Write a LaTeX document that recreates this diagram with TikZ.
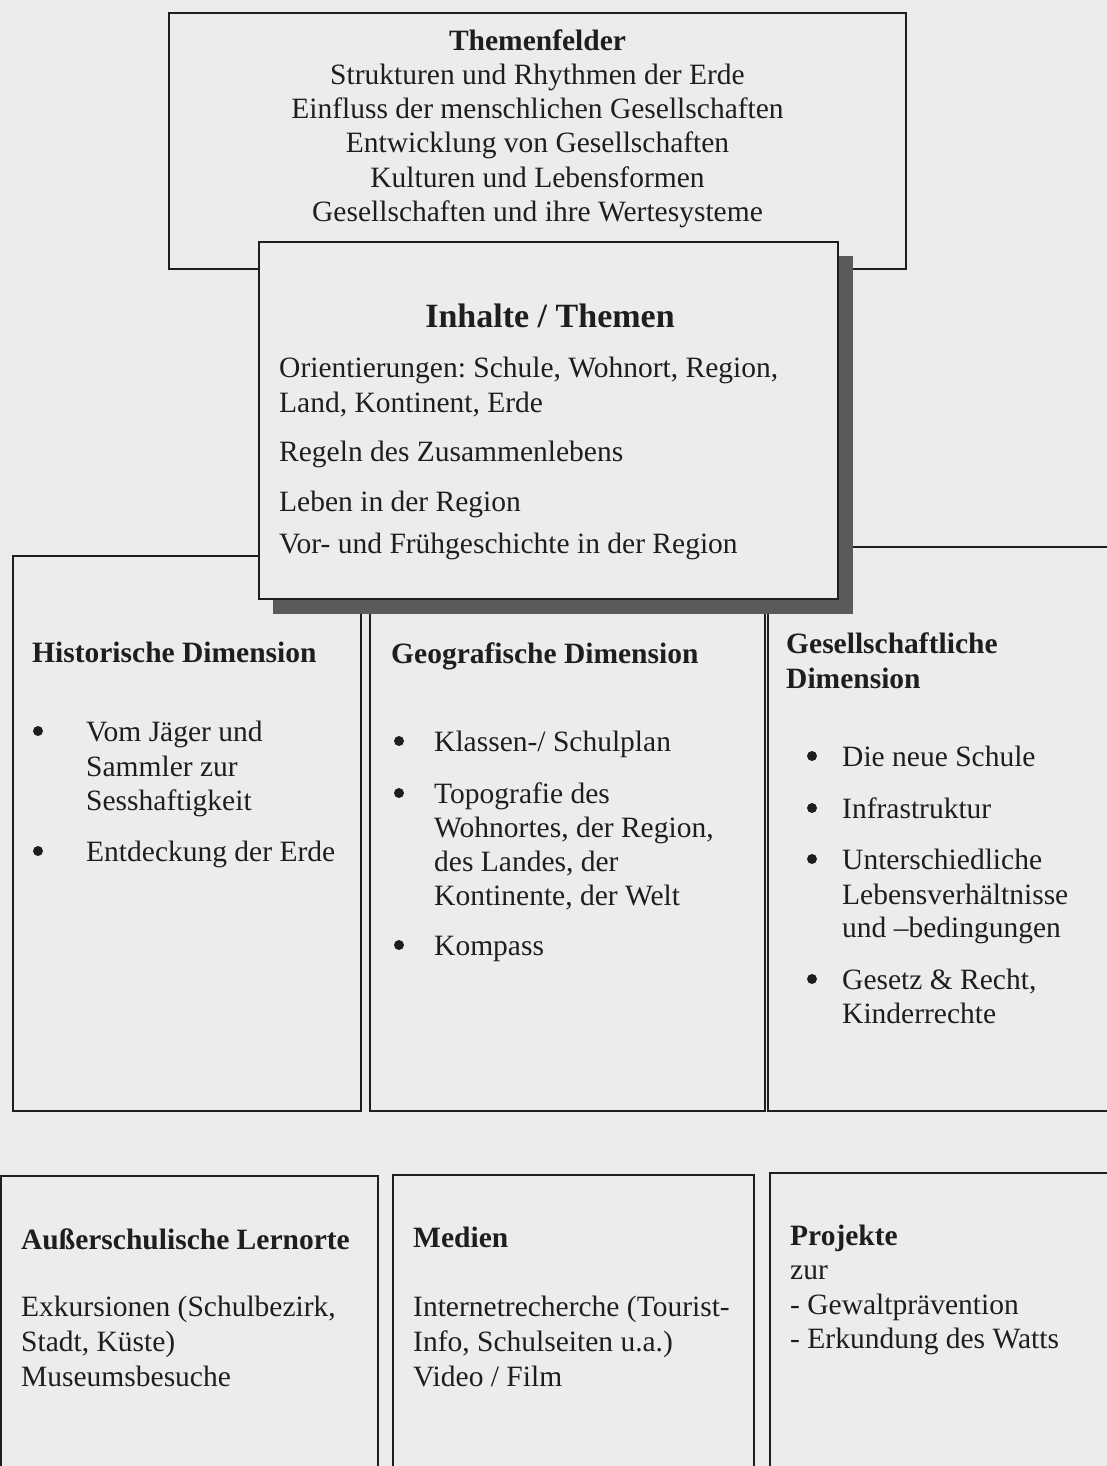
\documentclass[tikz,border=0pt]{standalone}
\usepackage{fontspec}
\setmainfont{Liberation Serif}
\frenchspacing
\definecolor{paper}{HTML}{ECEDEB}
\definecolor{ink}{HTML}{1E1E1E}
\definecolor{shadowgray}{HTML}{5A5A5A}
\tikzset{
  frame/.style={draw=ink, line width=2.2pt},
  txt/.style={font=\fontsize{29.5}{35}\selectfont, inner sep=0pt, anchor=base west, text=ink},
  hd/.style={txt, font=\fontsize{29.5}{35}\selectfont\bfseries},
  ctr/.style={txt, anchor=base},
  dot/.style={circle, fill=ink, draw=none, inner sep=0pt, minimum size=10pt}
}
\begin{document}
\begin{tikzpicture}[x=1pt,y=-1pt]
\useasboundingbox (0,0) rectangle (1107,1466);
\fill[paper] (0,0) rectangle (1107,1466);

% Themenfelder box
\draw[frame] (169,13) rectangle (906,269);
\node[hd, anchor=base] (tf0) at (537.5,51) {Themenfelder};
\node[ctr] (tf1) at (537.5,85) {Strukturen und Rhythmen der Erde};
\node[ctr] (tf2) at (537.5,119) {Einfluss der menschlichen Gesellschaften};
\node[ctr] (tf3) at (537.5,153) {Entwicklung von Gesellschaften};
\node[ctr] (tf4) at (537.5,188) {Kulturen und Lebensformen};
\node[ctr] (tf5) at (537.5,222) {Gesellschaften und ihre Wertesysteme};

% middle row boxes
\draw[frame] (13,556) rectangle (361,1111);
\draw[frame] (370,600) rectangle (765,1111);
\draw[frame] (1125,547) -- (768,547) -- (768,1111) -- (1125,1111);

% Inhalte box with shadow
\fill[shadowgray] (273,256) rectangle (853,614);
\fill[paper] (259,242) rectangle (838,599);
\draw[frame] (259,242) rectangle (838,599);
\node[ctr, font=\fontsize{34}{40}\selectfont\bfseries] (ih0) at (550,327) {Inhalte / Themen};
\node[txt] (ih1) at (279,377) {Orientierungen: Schule, Wohnort, Region,};
\node[txt] (ih2) at (279,412) {Land, Kontinent, Erde};
\node[txt] (ih3) at (279,461) {Regeln des Zusammenlebens};
\node[txt] (ih4) at (279,511) {Leben in der Region};
\node[txt] (ih5) at (279,553) {Vor- und Frühgeschichte in der Region};

% Historische Dimension
\node[hd] (hi0) at (32,662) {Historische Dimension};
\node[dot] (hib1) at (38,731) {};
\node[txt] (hi1) at (86,741) {Vom Jäger und};
\node[txt] (hi2) at (86,776) {Sammler zur};
\node[txt] (hi3) at (86,810) {Sesshaftigkeit};
\node[dot] (hib2) at (38,851) {};
\node[txt] (hi4) at (86,861) {Entdeckung der Erde};

% Geografische Dimension
\node[hd] (ge0) at (391,663) {Geografische Dimension};
\node[dot] (geb1) at (399,741) {};
\node[txt] (ge1) at (434,751) {Klassen-/ Schulplan};
\node[dot] (geb2) at (399,793) {};
\node[txt] (ge2) at (434,803) {Topografie des};
\node[txt] (ge3) at (434,837) {Wohnortes, der Region,};
\node[txt] (ge4) at (434,871) {des Landes, der};
\node[txt] (ge5) at (434,905) {Kontinente, der Welt};
\node[dot] (geb3) at (399,945) {};
\node[txt] (ge6) at (434,955) {Kompass};

% Gesellschaftliche Dimension
\node[hd] (gs0) at (786,653) {Gesellschaftliche};
\node[hd] (gs0b) at (786,688) {Dimension};
\node[dot] (gsb1) at (812,756) {};
\node[txt] (gs1) at (842,766) {Die neue Schule};
\node[dot] (gsb2) at (812,808) {};
\node[txt] (gs2) at (842,818) {Infrastruktur};
\node[dot] (gsb3) at (812,859) {};
\node[txt] (gs3) at (842,869) {Unterschiedliche};
\node[txt] (gs4) at (842,904) {Lebensverhältnisse};
\node[txt] (gs5) at (842,937) {und –bedingungen};
\node[dot] (gsb4) at (812,979) {};
\node[txt] (gs6) at (842,989) {Gesetz \& Recht,};
\node[txt] (gs7) at (842,1023) {Kinderrechte};

% bottom row boxes
\draw[frame] (1,1490) -- (1,1176) -- (378,1176) -- (378,1490);
\draw[frame] (393,1490) -- (393,1175) -- (754,1175) -- (754,1490);
\draw[frame] (770,1490) -- (770,1173) -- (1125,1173);

\node[hd] (ao0) at (21,1249) {Außerschulische Lernorte};
\node[txt] (ao1) at (21,1316) {Exkursionen (Schulbezirk,};
\node[txt] (ao2) at (21,1351) {Stadt, Küste)};
\node[txt] (ao3) at (21,1386) {Museumsbesuche};

\node[hd] (me0) at (413,1247) {Medien};
\node[txt] (me1) at (413,1316) {Internetrecherche (Tourist-};
\node[txt] (me2) at (413,1351) {Info, Schulseiten u.a.)};
\node[txt] (me3) at (413,1386) {Video / Film};

\node[hd] (pr0) at (790,1245) {Projekte};
\node[txt] (pr1) at (790,1279) {zur};
\node[txt] (pr2) at (790,1314) {- Gewaltprävention};
\node[txt] (pr3) at (790,1348) {- Erkundung des Watts};
\end{tikzpicture}
\end{document}
